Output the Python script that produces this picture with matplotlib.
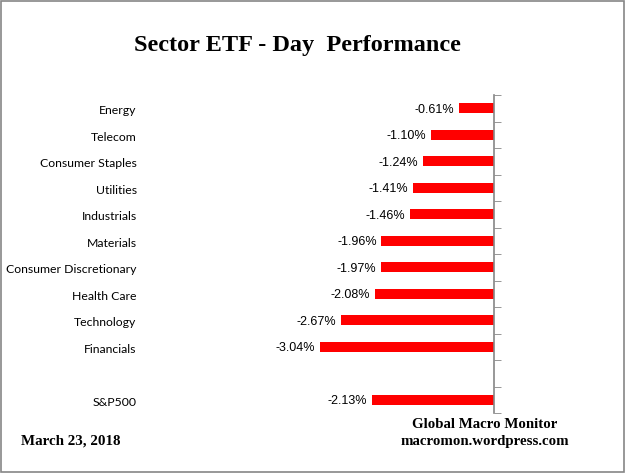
import numpy as np
import matplotlib.pyplot as plt
from matplotlib.patches import Rectangle

# sector day returns (%)
sectors = ["Energy", "Telecom", "Consumer Staples", "Utilities", "Industrials",
           "Materials", "Consumer Discretionary", "Health Care", "Technology", "Financials"]
returns = [-0.61, -1.10, -1.24, -1.41, -1.46, -1.96, -1.97, -2.08, -2.67, -3.04]
index_name = "S&P500"
index_return = -2.13

labels = sectors + [""] + [index_name]
values = returns + [np.nan] + [index_return]
pos = np.arange(len(labels))

fig = plt.figure(figsize=(6.26, 4.73), dpi=100)
ax = fig.add_axes([145 / 626, 1 - 413 / 473, (494 - 145) / 626, (413 - 95) / 473])

ax.barh(pos, values, height=0.38, color="#ff0000")
ax.set_xlim(-(494 - 145) / 57.4, 0)
ax.set_ylim(len(labels) - 0.5, -0.5)

# value labels just left of each bar
for p, v in zip(pos, values):
    if np.isnan(v):
        continue
    ax.text(v - 0.08, p + 0.05, f"{v:.2f}%", ha="right", va="center", fontsize=9,
            family="Liberation Sans", color="#000000")

ax.set_yticks(pos + 0.05)
ax.set_yticklabels(labels, family="Lato", fontsize=8.8)
ax.set_yticks(np.arange(len(labels) + 1) - 0.5, minor=True)
ax.tick_params(axis="y", which="major", left=False, right=False, length=0, pad=6)
ax.tick_params(axis="y", which="minor", left=False, right=True, direction="out",
               length=5, color="#868686")
ax.set_xticks([])
for side in ["left", "top", "bottom"]:
    ax.spines[side].set_visible(False)
ax.spines["right"].set_color("#868686")
ax.spines["right"].set_linewidth(1.2)

fig.text(297 / 626, 1 - 46 / 473, "Sector ETF - Day  Performance", ha="center", va="center",
         family="Liberation Serif", fontweight="bold", fontsize=17.5)
fig.text(21 / 626, 1 - 441 / 473, "March 23, 2018", ha="left", va="center",
         family="Liberation Serif", fontweight="bold", fontsize=10.8)
fig.text(485 / 626, 1 - 424 / 473, "Global Macro Monitor", ha="center", va="center",
         family="Liberation Serif", fontweight="bold", fontsize=10.7)
fig.text(485 / 626, 1 - 441 / 473, "macromon.wordpress.com", ha="center", va="center",
         family="Liberation Serif", fontweight="bold", fontsize=10.7)

fig.patches.append(Rectangle((0.002, 0.003), 0.995, 0.994, transform=fig.transFigure,
                             fill=False, edgecolor="#868686", linewidth=1.2))

fig.savefig("out.png", dpi=100)
